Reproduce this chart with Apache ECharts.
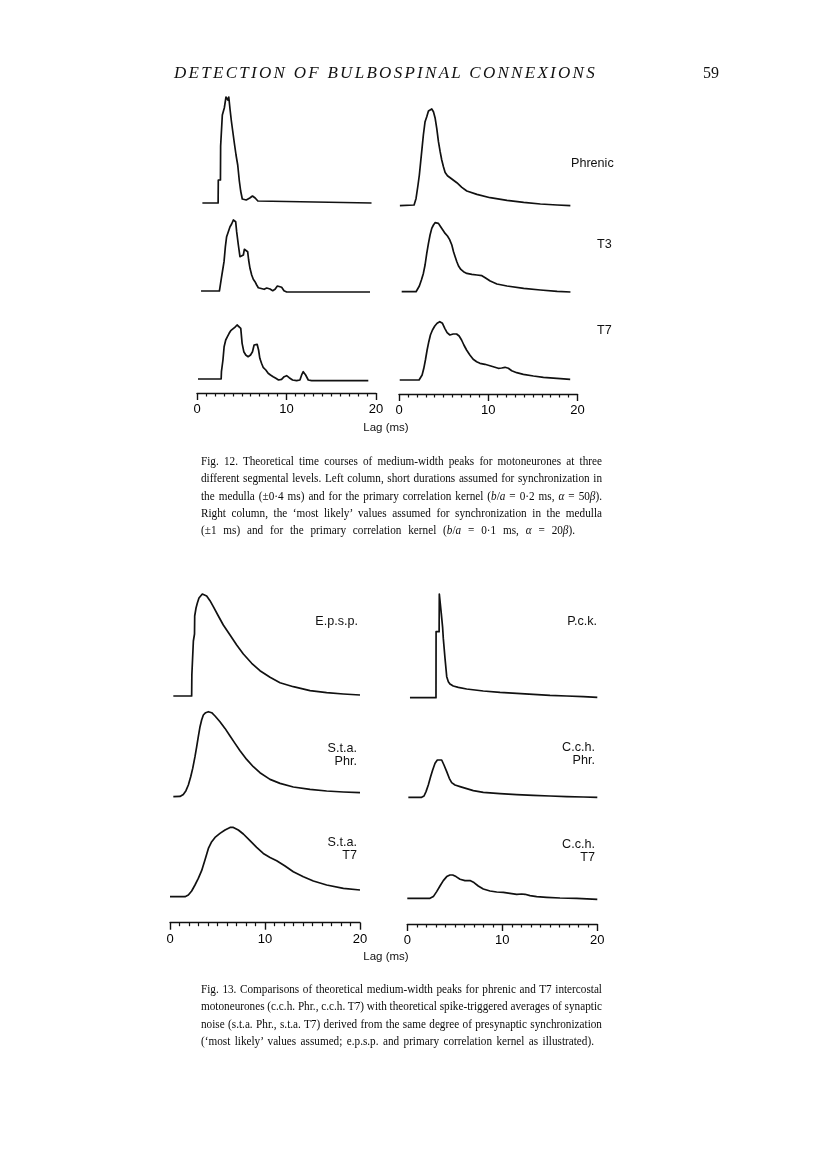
<!DOCTYPE html>
<html><head><meta charset="utf-8">
<script src="https://cdn.jsdelivr.net/npm/echarts@6/dist/echarts.min.js"></script>
<style>
html,body{margin:0;padding:0;background:#fff;}
#chart{position:absolute;left:0;top:0;width:816px;height:1160px;}
.hdr{position:absolute;font-family:"Liberation Serif","DejaVu Serif",serif;font-style:italic;color:#111;white-space:nowrap;}
.num{position:absolute;font-family:"Liberation Serif","DejaVu Serif",serif;color:#111;font-size:16px;}
.cap{position:absolute;left:201px;font-family:"Liberation Serif","DejaVu Serif",serif;font-size:13.2px;color:#0a0a0a;line-height:17.3px;}
.cap div{white-space:nowrap;height:17.3px;}
.cap span.fit{display:inline-block;transform-origin:0 50%;}
.cap i{font-style:italic;}
</style></head>
<body>
<div id="chart"></div>
<div class="hdr" style="left:174px;top:63px;font-size:17px;"><span class="fit" data-w="423">DETECTION OF BULBOSPINAL CONNEXIONS</span></div>
<div class="num" style="left:703px;top:64px;">59</div>
<div class="cap" style="top:452px;">
<div><span class="fit" data-w="401">Fig. 12. Theoretical time courses of medium-width peaks for motoneurones at three</span></div>
<div><span class="fit" data-w="401">different segmental levels. Left column, short durations assumed for synchronization in</span></div>
<div><span class="fit" data-w="401">the medulla (±0·4 ms) and for the primary correlation kernel (<i>b</i>/<i>a</i> = 0·2 ms, <i>α</i> = 50<i>β</i>).</span></div>
<div><span class="fit" data-w="401">Right column, the ‘most likely’ values assumed for synchronization in the medulla</span></div>
<div><span class="fit last" data-w="374">(±1 ms) and for the primary correlation kernel (<i>b</i>/<i>a</i> = 0·1 ms, <i>α</i> = 20<i>β</i>).</span></div>
</div>
<div class="cap" style="top:980px;">
<div><span class="fit" data-w="401">Fig. 13. Comparisons of theoretical medium-width peaks for phrenic and T7 intercostal</span></div>
<div><span class="fit" data-w="401">motoneurones (c.c.h. Phr., c.c.h. T7) with theoretical spike-triggered averages of synaptic</span></div>
<div><span class="fit" data-w="401">noise (s.t.a. Phr., s.t.a. T7) derived from the same degree of presynaptic synchronization</span></div>
<div><span class="fit last" data-w="393">(‘most likely’ values assumed; e.p.s.p. and primary correlation kernel as illustrated).</span></div>
</div>
<script>
// ---------- data: [lag (ms), amplitude] ----------
// Fig. 12, left column (short durations)
const phrenicShort = [[0.6,0],[2.36,0],[2.38,23],[2.62,23],[2.64,57],[2.81,57],[2.83,88],[3.03,90],[3.05,95],[3.22,97],[3.24,106],[3.45,103],[3.55,106],[3.7,93],[3.84,82],[3.99,72],[4.17,60],[4.36,48],[4.55,38],[4.73,22],[4.88,12],[5.06,4],[5.5,3],[5.9,5],[6.2,7],[6.5,5],[6.8,2],[7.0,0],[19.5,0]];
const t3Short = [[0.45,0],[2.5,0],[2.55,2.7],[2.72,12.7],[2.87,21],[3.02,29.3],[3.17,44.3],[3.31,54.3],[3.5,59.3],[3.69,64.3],[3.87,67],[4.06,71],[4.2,71.7],[4.32,69.3],[4.43,59.3],[4.62,46],[4.8,34.3],[4.99,32.7],[5.18,36],[5.29,41.7],[5.47,42.7],[5.66,39.3],[5.77,31],[5.92,22.7],[6.11,16],[6.29,11.7],[6.48,9.3],[6.67,6],[6.85,3.3],[7.04,1.7],[7.5,1.7],[7.79,3],[8.16,2],[8.46,0.3],[8.72,1.7],[8.98,5],[9.2,7],[9.46,3.7],[9.72,0.3],[10.02,-1],[19.33,-1]];
const t7Short = [[0.11,0],[2.7,0],[2.73,7.3],[2.9,19],[3.03,32.3],[3.21,39],[3.4,42.3],[3.59,45.7],[3.77,48.3],[3.96,49.7],[4.22,51.7],[4.48,54],[4.7,54.3],[4.89,50.7],[5.04,35.7],[5.23,27.3],[5.45,24],[5.71,22.3],[5.98,24],[6.2,27.3],[6.38,34],[6.72,34.7],[6.88,29],[7.02,20.7],[7.21,15.7],[7.39,11.7],[7.69,9],[7.95,5.7],[8.21,4],[8.51,2.3],[8.81,0.7],[9.11,-1],[9.45,-0.3],[9.74,2.3],[10.01,3.3],[10.3,1.3],[10.68,-1],[11.13,-1.7],[11.5,-1],[11.72,4.7],[11.87,7.3],[12.14,4],[12.43,-1],[12.81,-1.7],[19.14,-1.7]];
// Fig. 12, right column ('most likely' values)
const phrenicLikely = [[0.1,0],[1.69,0.7],[1.91,7.3],[2.13,20.7],[2.28,30.7],[2.43,44],[2.58,57.3],[2.73,70.7],[2.92,84],[3.11,89],[3.3,94.7],[3.48,96.7],[3.67,96.7],[3.86,94],[4.04,88],[4.23,77.3],[4.42,64],[4.61,54],[4.79,45.7],[4.98,39],[5.17,33.3],[5.43,30],[5.92,26.7],[6.48,23],[7.04,18.3],[7.6,14.7],[8.73,11.3],[10.22,8],[12.1,5.3],[13.97,3.3],[15.84,1.7],[17.72,0.7],[19.2,0]];
const t3Likely = [[0.3,0],[1.91,0],[2.06,1.7],[2.28,5.7],[2.51,11.7],[2.73,18.3],[2.92,26.7],[3.11,38.3],[3.3,48.3],[3.48,56.7],[3.67,63.3],[3.86,66.7],[4.04,69],[4.23,70],[4.42,68.3],[4.61,65.7],[4.91,61.7],[5.17,58.3],[5.43,55.7],[5.66,52.3],[5.92,46.7],[6.11,40],[6.29,35],[6.48,30],[6.67,25.7],[6.93,22.3],[7.23,20],[7.6,18.3],[8.16,17.3],[8.73,16.7],[9.29,16],[9.66,14],[10.22,10.7],[10.97,7.7],[12.1,5.7],[13.97,3.3],[15.84,1.7],[17.72,0.3],[19.21,-0.3]];
const t7Likely = [[0.08,0],[2.25,0],[2.4,1.7],[2.59,5],[2.78,11.7],[2.96,20],[3.15,30],[3.34,38.3],[3.52,45],[3.75,50],[4.01,54],[4.27,56.7],[4.57,58.3],[4.65,58.7],[4.87,56.7],[5.13,51.7],[5.39,47.3],[5.7,45],[6.07,46],[6.45,46],[6.74,44],[7.01,40],[7.27,35],[7.57,30],[7.94,25],[8.31,20.7],[8.7,18.3],[9.07,16.7],[9.63,15.7],[10.19,14.3],[10.75,12.7],[11.12,11.7],[11.5,12],[11.88,12.7],[12.25,11.7],[12.63,9.3],[13.19,7.3],[13.93,5.7],[15.06,4],[16.18,2.7],[17.69,1.7],[19.18,0.7]];
// Fig. 13, left column
const epsp = [[0.35,0],[2.28,0],[2.3,21],[2.44,21],[2.46,55],[2.58,62],[2.6,80],[2.74,88],[2.88,93],[3.05,98],[3.23,100],[3.4,102],[3.61,102],[3.86,100],[4.21,95.3],[4.56,89.3],[5.09,80],[5.61,71],[6.32,61],[7.02,51],[7.72,42],[8.6,32.7],[9.47,25.3],[10.53,18.7],[11.58,13.3],[12.98,9.3],[14.74,5.3],[16.49,3.3],[18.25,2],[20,1]];
const staPhr = [[0.35,0],[1.05,0.3],[1.4,2.3],[1.68,6],[1.93,11.7],[2.18,20],[2.39,28.3],[2.63,40],[2.81,50],[2.98,60],[3.16,70],[3.33,76.7],[3.51,81.7],[3.75,84],[4.04,85],[4.39,84],[4.74,80.7],[5.26,75],[5.79,68.3],[6.32,60.7],[6.84,53.3],[7.37,46],[8.07,37.3],[8.77,30],[9.47,24],[10.53,17.3],[11.58,13.3],[12.98,9.7],[14.74,7.3],[16.49,5.7],[18.25,4.7],[20,4]];
const staT7 = [[0,0],[1.58,0],[1.93,1.7],[2.28,5.7],[2.63,11.7],[2.98,18.3],[3.33,26],[3.68,36.7],[4.04,48.3],[4.39,55],[4.74,59.3],[5.26,63.3],[5.79,66.7],[6.32,69.3],[6.67,69.3],[7.19,66.7],[7.72,62.7],[8.42,56],[9.12,49.3],[9.82,43.3],[10.53,39.3],[11.23,36],[12.11,30.7],[12.98,25],[14.04,20],[15.09,15.7],[16.49,11.7],[18.25,8.3],[20,6.7]];
// Fig. 13, right column
const pck = [[0.28,0],[3.02,0],[3.03,66],[3.35,66],[3.37,103.7],[3.55,103.7],[3.58,84],[3.7,84],[3.72,70],[3.79,59.3],[3.97,39.3],[4.15,21],[4.32,16],[4.49,13.7],[4.84,11.7],[5.37,10.3],[6.25,8.7],[8.0,6.7],[9.76,5.3],[11.52,4.3],[13.26,3.3],[15.02,2.3],[16.78,1.7],[18.53,1],[20,0.3]];
const cchPhr = [[0.11,0],[1.51,0],[1.76,1.3],[1.97,5.7],[2.21,12.3],[2.46,20.7],[2.67,27.3],[2.92,34],[3.16,37.3],[3.37,39],[3.62,37.3],[3.86,32.3],[4.15,25.7],[4.42,19],[4.67,14.7],[5.02,12.3],[5.55,10.7],[6.25,8.7],[6.95,6.7],[8.0,5],[9.76,3.7],[11.52,2.7],[13.26,2],[15.02,1.3],[16.78,0.7],[18.53,0.3],[20,0]];
const cchT7 = [[0,0],[2.39,0],[2.74,1.7],[3.09,6.7],[3.44,12.3],[3.79,17.7],[4.15,21.7],[4.49,23.3],[4.78,23.3],[5.13,21.7],[5.55,19],[6.07,17.7],[6.6,17.7],[7.02,15.7],[7.47,12.3],[8.0,9.3],[8.71,7.3],[9.41,6.3],[10.11,6],[10.81,5],[11.52,4],[12.04,4.3],[12.39,4],[12.92,2.7],[13.62,1.7],[14.67,1],[16.07,0.3],[17.83,0],[20,-1]];

const lagTicks = [0, 10, 20];
const fig12Labels = ['Phrenic', 'T3', 'T7'];
const fig13Labels = [['E.p.s.p.', 'P.c.k.'], ['S.t.a.\nPhr.', 'C.c.h.\nPhr.'], ['S.t.a.\nT7', 'C.c.h.\nT7']];
const axisTitle = 'Lag (ms)';

// ---------- text fitting (justified lines, one common condensing) ----------
(function fitText() {
  const hdr = document.querySelector('.hdr .fit');
  {
    const w = hdr.getBoundingClientRect().width;
    hdr.style.letterSpacing = ((parseFloat(hdr.dataset.w) - w) / hdr.textContent.length).toFixed(3) + 'px';
  }
  const lines = Array.from(document.querySelectorAll('.cap .fit'));
  const info = lines.map(el => ({el, w: el.getBoundingClientRect().width, target: parseFloat(el.dataset.w),
    spaces: (el.textContent.match(/ /g) || []).length, last: el.classList.contains('last')}));
  const full = info.filter(o => !o.last);
  const c = Math.min(1, ...full.map(o => o.target / o.w));
  info.forEach(o => {
    let s = c;
    if (o.w * c > o.target) s = o.target / o.w;
    o.el.style.transform = 'scaleX(' + s.toFixed(4) + ')';
    if (o.spaces > 0) {
      const extra = (o.target / s - o.w) / o.spaces;
      if (extra > 0) o.el.style.wordSpacing = extra.toFixed(3) + 'px';
    }
  });
})();

// ---------- layout ----------
const INK = '#111';
const FONT = '"Liberation Sans", Arial, sans-serif';
const cols = {
  f12L: {left: 197, width: 179},
  f12R: {left: 399, width: 178.5},
  f13L: {left: 170, width: 190},
  f13R: {left: 407.3, width: 190}
};
const panels = [
  {col:'f12L', base:203,   data:phrenicShort},
  {col:'f12L', base:291,   data:t3Short},
  {col:'f12L', base:379,   data:t7Short},
  {col:'f12R', base:205.7, data:phrenicLikely},
  {col:'f12R', base:291.7, data:t3Likely},
  {col:'f12R', base:380,   data:t7Likely},
  {col:'f13L', base:696,   data:epsp},
  {col:'f13L', base:796.7, data:staPhr},
  {col:'f13L', base:896.7, data:staT7},
  {col:'f13R', base:697.7, data:pck},
  {col:'f13R', base:797.3, data:cchPhr},
  {col:'f13R', base:898.3, data:cchT7}
];
const axesAt = [
  {col:'f12L', y:393}, {col:'f12R', y:394},
  {col:'f13L', y:922.7}, {col:'f13R', y:924}
];
const UP = 110, DOWN = 5;

const grid = [], xAxis = [], yAxis = [], series = [];
panels.forEach((p, i) => {
  const c = cols[p.col];
  grid.push({left: c.left, width: c.width, top: p.base - UP, height: UP + DOWN});
  xAxis.push({type:'value', gridIndex:i, min:0, max:20, show:false});
  yAxis.push({type:'value', gridIndex:i, min:-DOWN, max:UP, show:false});
  series.push({type:'line', xAxisIndex:i, yAxisIndex:i, data:p.data,
    showSymbol:false, symbol:'none', silent:true,
    lineStyle:{color:INK, width:1.7, join:'round'}});
});
axesAt.forEach(a => {
  const c = cols[a.col];
  const gi = grid.length;
  grid.push({left: c.left, width: c.width, top: a.y - 10, height: 10});
  xAxis.push({type:'value', gridIndex:gi, min:lagTicks[0], max:lagTicks[2], interval:lagTicks[1]-lagTicks[0],
    position:'bottom',
    axisLine:{show:true, lineStyle:{color:INK, width:1.4}},
    axisTick:{show:true, length:7, lineStyle:{color:INK, width:1.4}},
    minorTick:{show:true, splitNumber:10, length:3.5, lineStyle:{color:INK, width:1.2}},
    splitLine:{show:false}, minorSplitLine:{show:false},
    axisLabel:{color:'#000', fontSize:13, fontFamily:FONT, margin:10, formatter: v => lagTicks.includes(v) ? String(v) : ''}});
  yAxis.push({type:'value', gridIndex:gi, min:0, max:1, show:false});
});

const txt = (x, y, text, align, size) => ({type:'text', x, y, silent:true,
  style:{text, fill:INK, font:(size||12.6)+'px '+FONT, align:align||'left', verticalAlign:'middle', textAlign:align||'left', textVerticalAlign:'middle', lineHeight:12.5}});
const graphic = [
  txt(571, 164, fig12Labels[0], 'left'),
  txt(597, 245, fig12Labels[1], 'left'),
  txt(597, 331, fig12Labels[2], 'left'),
  txt(386, 428, axisTitle, 'center', 11.5),
  txt(358, 622, fig13Labels[0][0], 'right'),
  txt(597, 622, fig13Labels[0][1], 'right'),
  txt(357, 755, fig13Labels[1][0], 'right'),
  txt(595, 754, fig13Labels[1][1], 'right'),
  txt(357, 849, fig13Labels[2][0], 'right'),
  txt(595, 851, fig13Labels[2][1], 'right'),
  txt(386, 957, axisTitle, 'center', 11.5)
];

const chart = echarts.init(document.getElementById('chart'), null, {renderer:'canvas'});
chart.setOption({animation:false, backgroundColor:'#fff', grid, xAxis, yAxis, series, graphic});
</script>
</body></html>
